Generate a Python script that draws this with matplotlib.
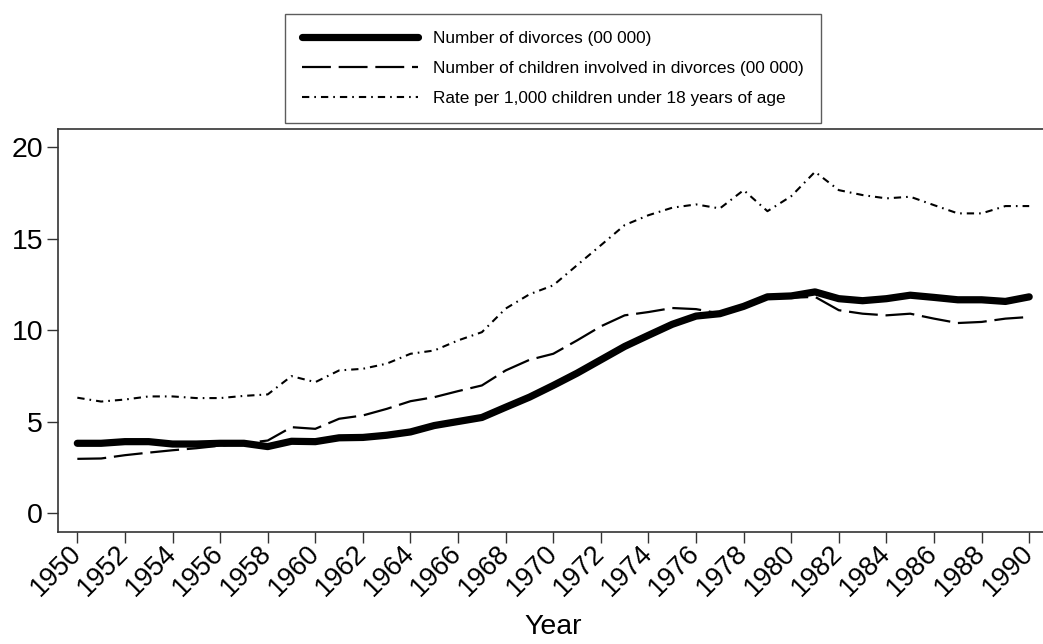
import matplotlib
matplotlib.use('Agg')
import matplotlib.pyplot as plt
import matplotlib.transforms as mtransforms

plt.rcParams['font.family'] = ['Liberation Sans', 'DejaVu Sans']

years = list(range(1950, 1991))

# number of divorces (00 000)
divorces = [3.83, 3.83, 3.92, 3.92, 3.79, 3.79, 3.83, 3.83, 3.65, 3.94,
            3.92, 4.13, 4.15, 4.27, 4.45, 4.80, 5.02, 5.24, 5.80, 6.35,
            6.99, 7.66, 8.39, 9.12, 9.73, 10.33, 10.78, 10.91, 11.31, 11.83,
            11.88, 12.10, 11.73, 11.62, 11.73, 11.92, 11.80, 11.67, 11.67, 11.58,
            11.83]

# number of children involved in divorces (00 000)
children = [2.98, 3.00, 3.18, 3.32, 3.45, 3.56, 3.70, 3.83, 3.98, 4.71,
            4.62, 5.17, 5.35, 5.71, 6.13, 6.35, 6.68, 6.99, 7.81, 8.39,
            8.72, 9.45, 10.22, 10.82, 11.00, 11.22, 11.16, 10.92, 11.35, 11.78,
            11.78, 11.83, 11.10, 10.91, 10.82, 10.91, 10.64, 10.40, 10.46, 10.64,
            10.73]

# rate per 1,000 children under 18
rate = [6.32, 6.11, 6.22, 6.39, 6.39, 6.30, 6.30, 6.42, 6.50, 7.50,
        7.17, 7.81, 7.90, 8.18, 8.72, 8.90, 9.45, 9.90, 11.19, 11.97,
        12.46, 13.56, 14.65, 15.75, 16.29, 16.70, 16.88, 16.66, 17.66, 16.51,
        17.33, 18.66, 17.66, 17.39, 17.21, 17.30, 16.84, 16.39, 16.39, 16.79,
        16.79]

labels = ['Number of divorces (00 000)',
          'Number of children involved in divorces (00 000)',
          'Rate per 1,000 children under 18 years of age']

fig = plt.figure(figsize=(10.43, 6.44), dpi=100)
ax = fig.add_axes([58.3 / 1043, 1 - 531.7 / 644, 1 - 58.3 / 1043, (531.7 - 129) / 644])

ax.plot(years, divorces, color='black', lw=5.2, solid_capstyle='round',
        solid_joinstyle='round', label=labels[0])
ax.plot(years, children, color='black', lw=1.6, linestyle=(0, (13, 3.5)),
        label=labels[1])
ax.plot(years, rate, color='black', lw=1.5, linestyle=(0, (3.5, 2.4, 0.8, 2.4)),
        label=labels[2])

ax.set_xlim(1949.2, 1990.58)
ax.set_ylim(-1.0, 21.0)
ax.set_yticks([0, 5, 10, 15, 20])
ax.set_xticks(years[::2])
ax.set_xticklabels([str(y) for y in years[::2]], rotation=45,
                   ha='right', va='center', rotation_mode='anchor')
shift = mtransforms.ScaledTranslation(4 / 100, 0, fig.dpi_scale_trans)
for lab in ax.get_xticklabels():
    lab.set_transform(lab.get_transform() + shift)

ax.spines['right'].set_visible(False)
for side in ['left', 'top', 'bottom']:
    ax.spines[side].set_color('#333333')
    ax.spines[side].set_linewidth(1.2)

ax.tick_params(axis='both', length=8, width=1.0, color='#333333')
ax.tick_params(axis='y', labelsize=20.5, pad=3)
ax.tick_params(axis='x', labelsize=19.5, pad=5)
ax.set_xlabel('Year', fontsize=20.5, va='center')
ax.xaxis.set_label_coords((553 - 58.3) / (1043 - 58.3), (531.7 - 627) / (531.7 - 129))

leg = fig.legend(loc='center', bbox_to_anchor=(553 / 1043, 1 - 68.5 / 644),
                 fontsize=12.4, frameon=True, fancybox=False, handlelength=6.7,
                 handletextpad=0.9, labelspacing=0.85, borderpad=1.0,
                 edgecolor='#333333')
leg.get_frame().set_linewidth(1.0)

fig.savefig('out.png', dpi=100)
